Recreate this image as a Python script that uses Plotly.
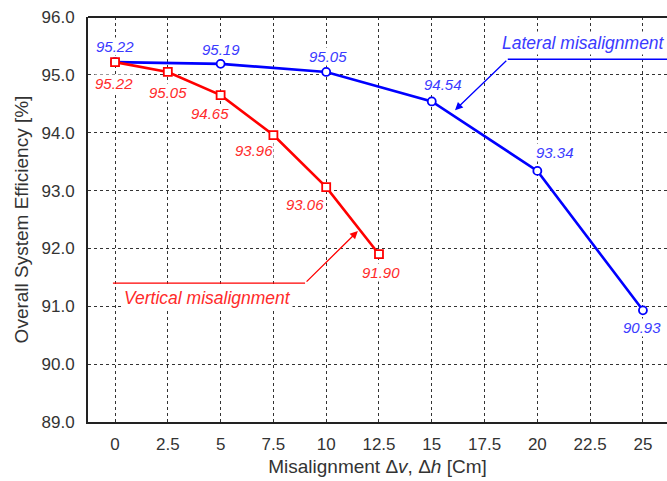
import plotly.graph_objects as go

x_lateral = [0, 5, 10, 15, 20, 25]
eff_lateral = [95.22, 95.19, 95.05, 94.54, 93.34, 90.93]
x_vertical = [0, 2.5, 5, 7.5, 10, 12.5]
eff_vertical = [95.22, 95.05, 94.65, 93.96, 93.06, 91.90]
x_ticks = [0, 2.5, 5, 7.5, 10, 12.5, 15, 17.5, 20, 22.5, 25]
x_tick_labels = ["0", "2.5", "5", "7.5", "10", "12.5", "15", "17.5", "20", "22.5", "25"]
y_ticks = [89, 90, 91, 92, 93, 94, 95, 96]
y_tick_labels = ["89.0", "90.0", "91.0", "92.0", "93.0", "94.0", "95.0", "96.0"]

BLUE = "#0000ff"
RED = "#ff0000"
BLUE_TXT = "#3a3aff"
RED_TXT = "#ff2a2a"
FONT = "Liberation Sans, Arial, sans-serif"

fig = go.Figure()
fig.add_trace(go.Scatter(x=x_lateral, y=eff_lateral, mode="lines+markers",
                         line=dict(color=BLUE, width=2.6),
                         marker=dict(symbol="circle", size=8, color="white",
                                     line=dict(color=BLUE, width=1.8)),
                         showlegend=False))
fig.add_trace(go.Scatter(x=x_vertical, y=eff_vertical, mode="lines+markers",
                         line=dict(color=RED, width=2.6),
                         marker=dict(symbol="square", size=8, color="white",
                                     line=dict(color=RED, width=1.8)),
                         showlegend=False))

ann = []
blue_off = [(0, 16), (0, 14), (2, 15), (11, 17), (18, 18), (-1, -17)]
for xv, yv, (dx, dy) in zip(x_lateral, eff_lateral, blue_off):
    ann.append(dict(x=xv, y=yv, text=f"<i>{yv:.2f}</i>", showarrow=False, xshift=dx, yshift=dy,
                    bgcolor="white", borderpad=0,
                    font=dict(family=FONT, size=15, color=BLUE_TXT)))
red_off = [(-1, -21), (0, -21), (-11, -18), (-19, -15), (-21, -17), (2, -18)]
for xv, yv, (dx, dy) in zip(x_vertical, eff_vertical, red_off):
    ann.append(dict(x=xv, y=yv, text=f"<i>{yv:.2f}</i>", showarrow=False, xshift=dx, yshift=dy,
                    bgcolor="white", borderpad=0,
                    font=dict(family=FONT, size=15, color=RED_TXT)))

# callouts
ann.append(dict(x=22.2, y=95.55, text="<i>Lateral misalignment</i>", showarrow=False,
                bgcolor="white", borderpad=1,
                font=dict(family=FONT, size=17.5, color=BLUE_TXT)))
ann.append(dict(x=4.36, y=91.14, text="<i>Vertical misalignment</i>", showarrow=False,
                bgcolor="white", borderpad=1,
                font=dict(family=FONT, size=17.5, color=RED_TXT)))
ann.append(dict(x=16.1, y=94.39, ax=18.6, ay=95.27, axref="x", ayref="y", xref="x", yref="y",
                text="", showarrow=True, arrowhead=2, arrowsize=1.2, arrowwidth=1.3,
                arrowcolor=BLUE))
ann.append(dict(x=11.5, y=92.30, ax=9.0, ay=91.40, axref="x", ayref="y", xref="x", yref="y",
                text="", showarrow=True, arrowhead=2, arrowsize=1.2, arrowwidth=1.3,
                arrowcolor=RED))

shapes = [
    dict(type="line", xref="x", yref="y", x0=18.6, x1=26.2, y0=95.27, y1=95.27,
         line=dict(color=BLUE, width=1.3)),
    dict(type="line", xref="x", yref="y", x0=-0.1, x1=9.0, y0=91.40, y1=91.40,
         line=dict(color=RED, width=1.3)),
    dict(type="line", xref="paper", yref="paper", x0=0, x1=1, y0=1, y1=1,
         line=dict(color="#222", width=2)),
]

fig.update_layout(
    width=667, height=481,
    margin=dict(l=88, r=0, t=17, b=59),
    paper_bgcolor="white", plot_bgcolor="white",
    font=dict(family=FONT, color="#333"),
    annotations=ann, shapes=shapes,
    xaxis=dict(range=[-1.28, 26.14], tickvals=x_ticks, ticktext=x_tick_labels,
               showgrid=True, gridcolor="#333", griddash="dot", gridwidth=1,
               showline=True, linecolor="#222", linewidth=2, ticks="", zeroline=False,
               tickfont=dict(size=17, color="#333"), ticklabelstandoff=6,
               title=dict(text="Misalignment Δ<i>v</i>, Δ<i>h</i> [Cm]", font=dict(size=19, color="#333"),
                          standoff=6)),
    yaxis=dict(range=[89, 96], tickvals=y_ticks, ticktext=y_tick_labels,
               showgrid=True, gridcolor="#333", griddash="dot", gridwidth=1,
               showline=True, linecolor="#222", linewidth=2, ticks="", zeroline=False,
               tickfont=dict(size=17, color="#333"), ticklabelstandoff=8,
               title=dict(text="Overall System Efficiency [%]", font=dict(size=19, color="#333"),
                          standoff=8)),
)

fig.write_html("out.html", config={"displayModeBar": False},
               post_script="document.body.style.margin='0';")
